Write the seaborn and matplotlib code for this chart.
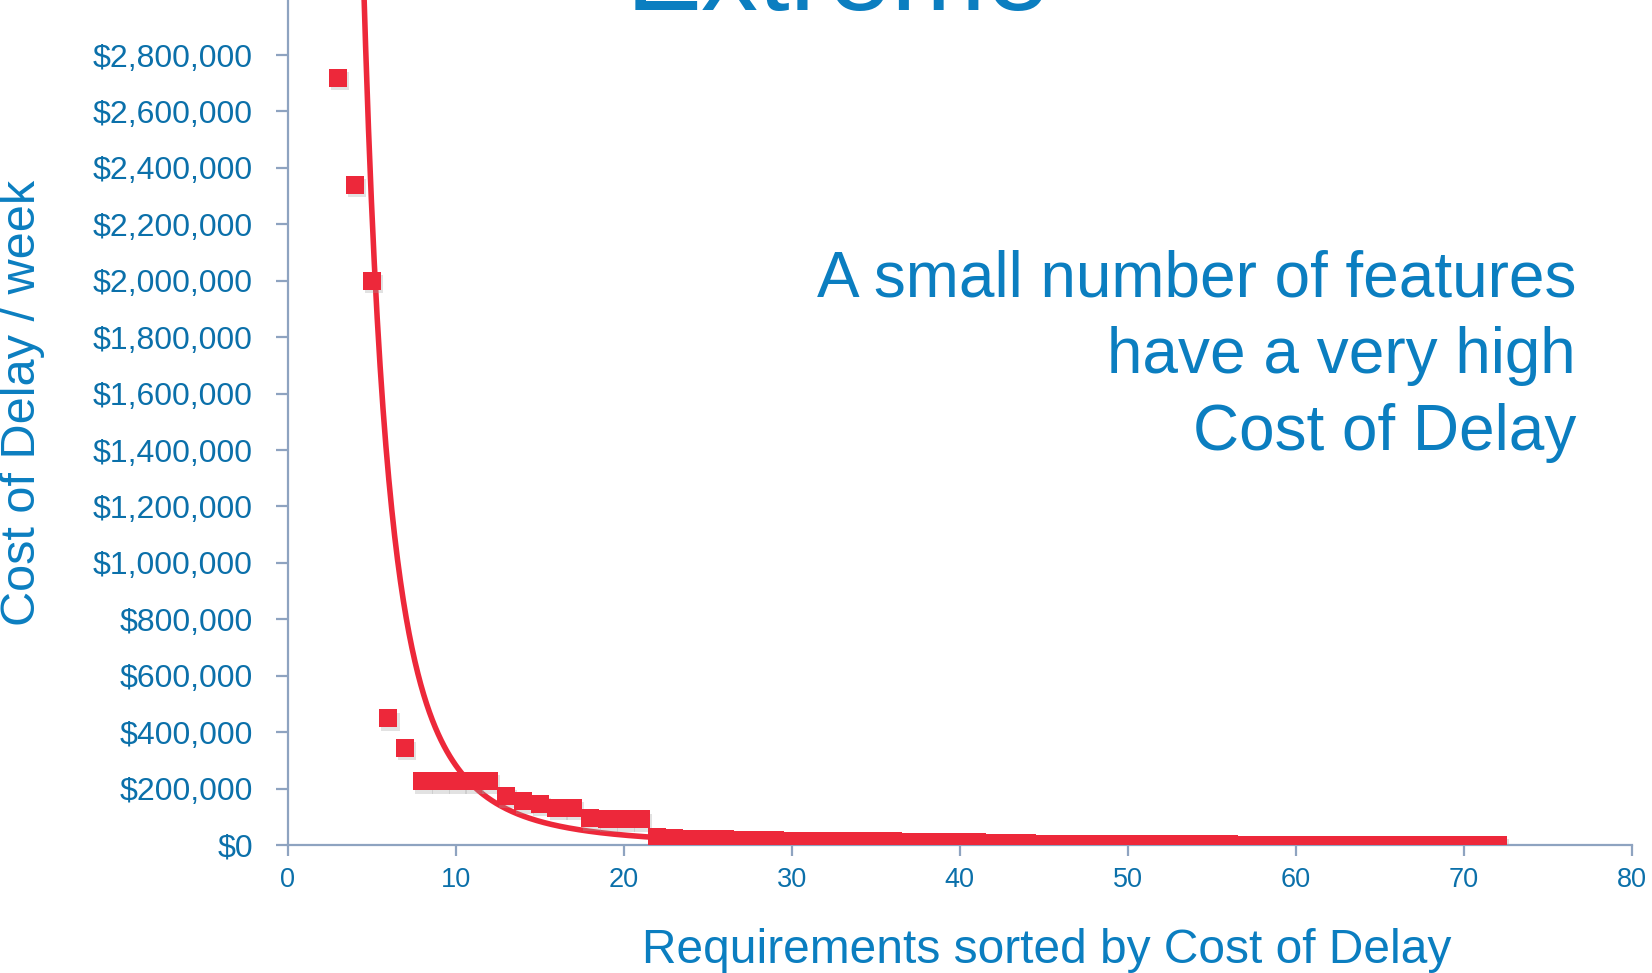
import numpy as np
import pandas as pd
import matplotlib
matplotlib.use("Agg")
import matplotlib.pyplot as plt
import matplotlib.patheffects as pe
from matplotlib.ticker import FuncFormatter
import seaborn as sns

# Requirements ranked by weekly cost of delay
rank = list(range(3, 73))
cost_per_week = [
    2720000, 2340000, 2000000, 450000, 345000,          # 3-7
    227000, 227000, 227000, 227000, 227000,             # 8-12
    175000, 155000, 147000, 132000, 132000,             # 13-17
    95000, 91000, 91000, 91000,                         # 18-21
    30000, 26000, 22000,                                # 22-24
    20000, 20000, 19000, 19000, 17000,                  # 25-29
    15000, 15000, 15000, 14000, 14000, 14000, 14000,    # 30-36
    11000, 11000, 11000, 11000, 10000,                  # 37-41
    8000, 7000, 6000,                                   # 42-44
    5000, 5000, 5000, 5000, 5000, 4000,                 # 45-50
    3000, 2500, 2500, 2500, 2500, 2500,                 # 51-56
    1500, 1500, 1500, 1500, 1500, 1500, 1500, 1500, 1500, 1500,  # 57-66
    1000, 1000, 1000, 1000, 1000, 1000,                 # 67-72
]

# Power trendline  y = TREND_COEF * x ** TREND_EXP
TREND_COEF = 2.83e8
TREND_EXP = -3.0

y_ticks = list(range(0, 2800001, 200000))
x_ticks = list(range(0, 81, 10))

title_text = "Extreme"
note_text = "A small number of features\nhave a very high\nCost of Delay"
x_label = "Requirements sorted by Cost of Delay"
y_label = "Cost of Delay / week"

RED = "#ED283A"
BLUE = "#0B7EC0"
TICK_BLUE = "#0B70AA"
AXIS_GREY = "#8EA3C0"

sns.set_theme(style="white")
plt.rcParams["font.family"] = ["Liberation Sans", "DejaVu Sans"]

df = pd.DataFrame({"rank": rank, "cost": cost_per_week})
trend_x = np.linspace(min(rank), max(rank), 800)
trend = pd.DataFrame({"rank": trend_x, "cost": TREND_COEF * trend_x ** TREND_EXP})

fig = plt.figure(figsize=(16.52, 9.73), dpi=100)
ax = fig.add_axes([0.1741, 0.1315, 0.8138, 0.8699])

sns.lineplot(data=trend, x="rank", y="cost", color=RED, linewidth=4, ax=ax, zorder=2)
sns.scatterplot(data=df, x="rank", y="cost", marker="s", s=170, color=RED,
                edgecolor="none", linewidth=0, ax=ax, zorder=3)
for coll in ax.collections:
    coll.set_path_effects([
        pe.SimplePatchShadow(offset=(1.5, -2.5), shadow_rgbFace="#a0a0a0", alpha=0.3),
        pe.Normal(),
    ])

ax.set_xlim(0, 80)
ax.set_ylim(0, 3000000)
ax.set_xticks(x_ticks)
ax.set_yticks(y_ticks)
ax.yaxis.set_major_formatter(FuncFormatter(lambda v, p: f"${v:,.0f}"))
ax.set_xlabel("")
ax.set_ylabel("")

for side in ("top", "right"):
    ax.spines[side].set_visible(False)
for side in ("left", "bottom"):
    ax.spines[side].set_color(AXIS_GREY)
    ax.spines[side].set_linewidth(1.6)

ax.tick_params(axis="y", which="major", direction="out", length=9, width=1.6,
               color=AXIS_GREY, labelcolor=TICK_BLUE, labelsize=23, pad=16, left=True)
ax.tick_params(axis="x", which="major", direction="out", length=8, width=1.6,
               color=AXIS_GREY, labelcolor=TICK_BLUE, labelsize=19.5, pad=8, bottom=True)

fig.text(0.507, 1 - 10 / 973, title_text, color=BLUE, fontsize=82,
         ha="center", va="baseline")
fig.text(1576 / 1652, 1 - 450 / 973, note_text, color=BLUE, fontsize=46,
         ha="right", va="baseline", linespacing=1.36, multialignment="right")
fig.text(1047 / 1652, 1 - 963 / 973, x_label, color=BLUE, fontsize=34.5,
         ha="center", va="baseline")
fig.text(23 / 1652, 1 - 403 / 973, y_label, color=BLUE, fontsize=35,
         ha="center", va="center", rotation=90)

fig.savefig("out.png", dpi=100, facecolor="white")
